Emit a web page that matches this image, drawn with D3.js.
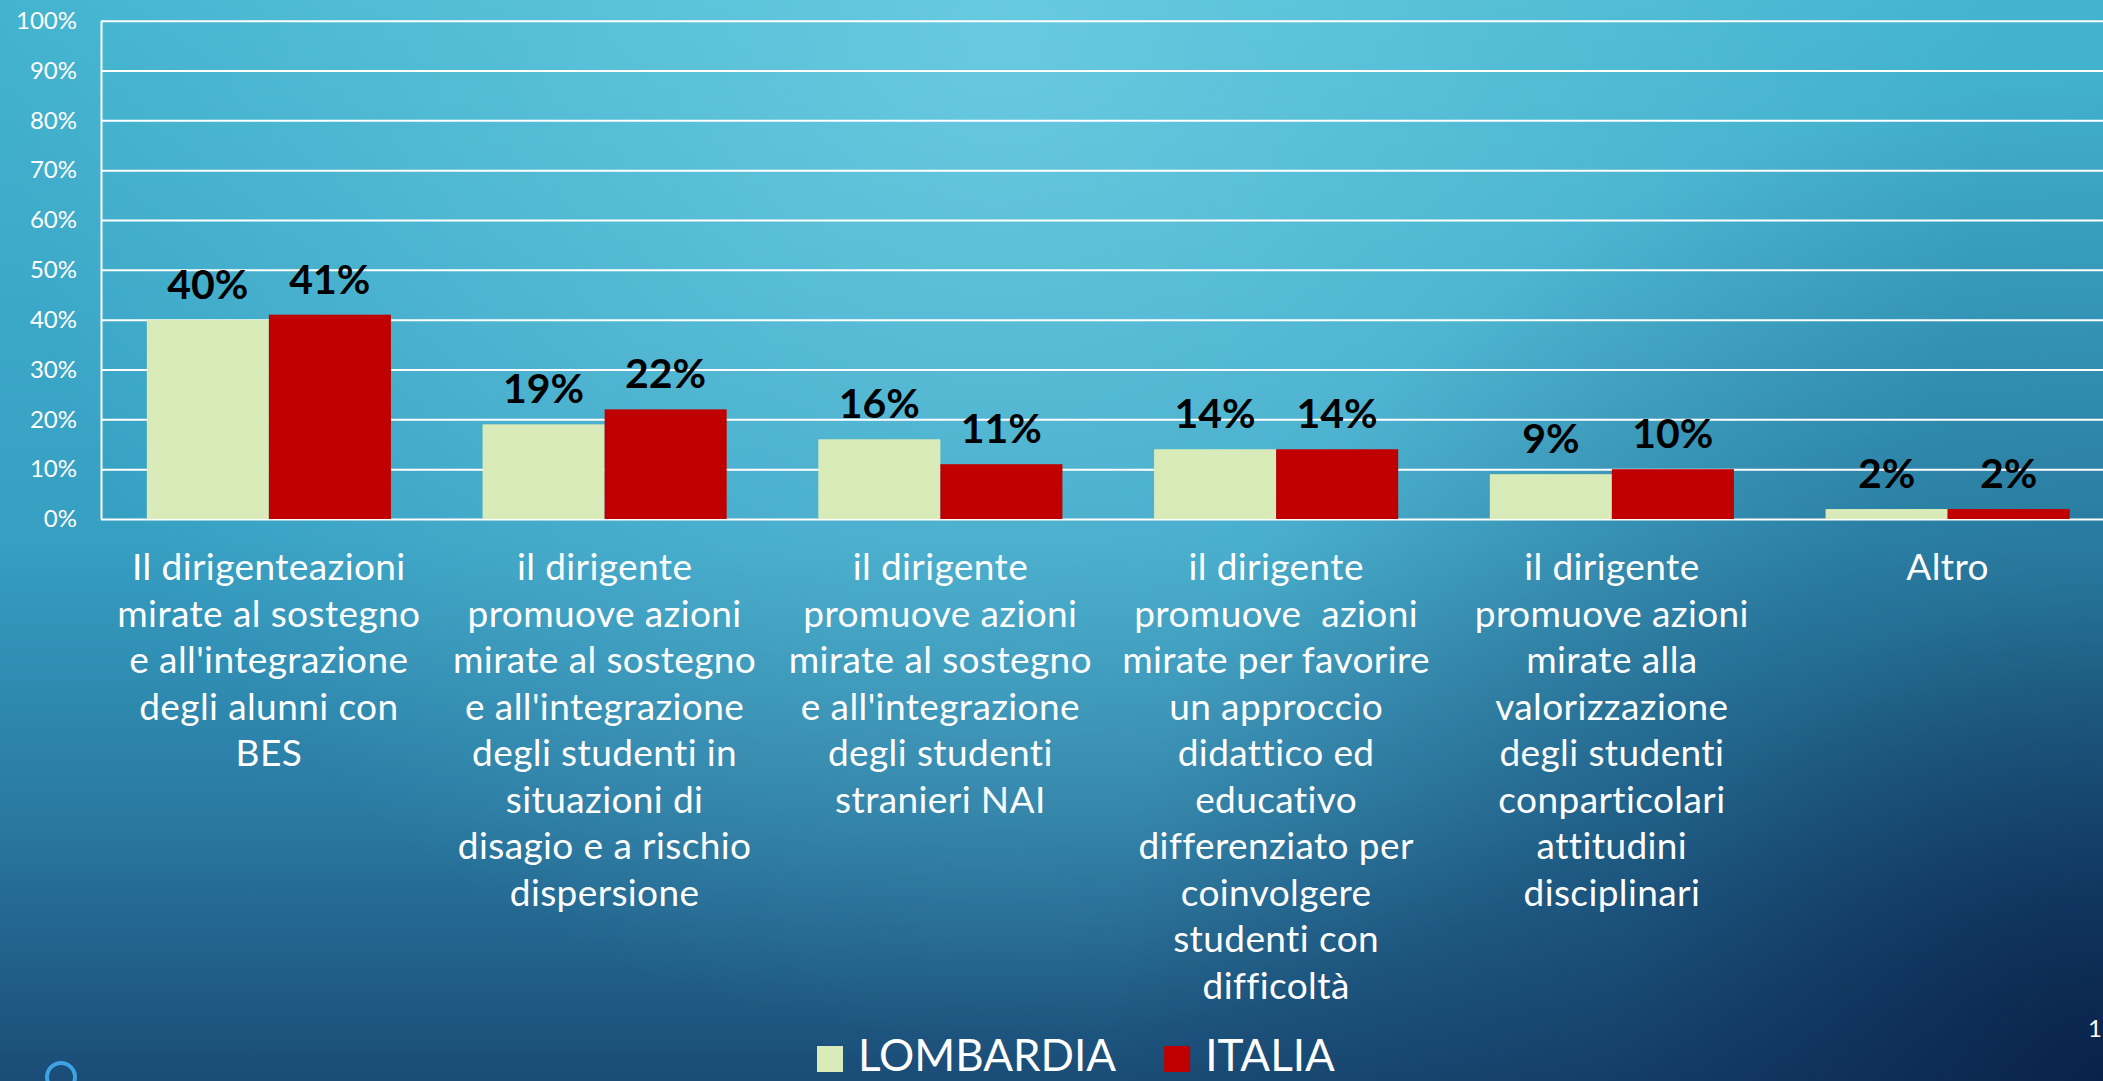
<!DOCTYPE html>
<html>
<head>
<meta charset="utf-8">
<script src="https://cdn.jsdelivr.net/npm/d3@7"></script>
<style>
  html, body { margin: 0; padding: 0; overflow: hidden; background: #0c2a55; }
  svg { display: block; }
  text { font-family: Lato, "Open Sans", sans-serif; }
</style>
</head>
<body>
<svg id="chart" width="2103" height="1081"></svg>
<script>
// categories (line breaks as on the slide)
const categories = [
  "Il dirigenteazioni\nmirate al sostegno\ne all'integrazione\ndegli alunni con\nBES",
  "il dirigente\npromuove azioni\nmirate al sostegno\ne all'integrazione\ndegli studenti in\nsituazioni di\ndisagio e a rischio\ndispersione",
  "il dirigente\npromuove azioni\nmirate al sostegno\ne all'integrazione\ndegli studenti\nstranieri NAI",
  "il dirigente\npromuove  azioni\nmirate per favorire\nun approccio\ndidattico ed\neducativo\ndifferenziato per\ncoinvolgere\nstudenti con\ndifficoltà",
  "il dirigente\npromuove azioni\nmirate alla\nvalorizzazione\ndegli studenti\nconparticolari\nattitudini\ndisciplinari",
  "Altro"
];
const lombardia = [0.40, 0.19, 0.16, 0.14, 0.09, 0.02];
const italia    = [0.41, 0.22, 0.11, 0.14, 0.10, 0.02];
const seriesNames = ["LOMBARDIA", "ITALIA"];
const seriesColors = ["#d8ebb9", "#c00000"];
const yTicks = [0, 0.1, 0.2, 0.3, 0.4, 0.5, 0.6, 0.7, 0.8, 0.9, 1];

const W = 2103, H = 1081;
const svg = d3.select("#chart");

// background: vertical base, light spot top centre, dark corner bottom right
const defs = svg.append("defs");
const base = defs.append("linearGradient")
  .attr("id", "bgBase").attr("x1", 0).attr("y1", 0).attr("x2", 0).attr("y2", 1);
[[0, "#43b4cf"], [0.5, "#369fc2"], [0.75, "#2a7aa2"], [1, "#1a4c76"]].forEach(s =>
  base.append("stop").attr("offset", s[0]).attr("stop-color", s[1]));
const glow = defs.append("radialGradient")
  .attr("id", "bgGlow").attr("gradientUnits", "userSpaceOnUse")
  .attr("cx", 1000).attr("cy", 40).attr("r", 1000);
glow.append("stop").attr("offset", 0).attr("stop-color", "#80d9ea").attr("stop-opacity", 0.6);
glow.append("stop").attr("offset", 1).attr("stop-color", "#80d9ea").attr("stop-opacity", 0);
const shade = defs.append("radialGradient")
  .attr("id", "bgShade").attr("gradientUnits", "userSpaceOnUse")
  .attr("cx", W).attr("cy", H).attr("r", 1000);
[[0, 0.9], [0.5, 0.3], [1, 0]].forEach(s =>
  shade.append("stop").attr("offset", s[0]).attr("stop-color", "#071d45").attr("stop-opacity", s[1]));
["bgBase", "bgGlow", "bgShade"].forEach(id =>
  svg.append("rect").attr("width", W).attr("height", H).attr("fill", `url(#${id})`));

const x0 = d3.scaleBand()
  .domain(d3.range(categories.length))
  .range([101, 2115.5])
  .paddingInner(0.273)
  .paddingOuter(0.1365);
const x1 = d3.scaleBand()
  .domain([0, 1])
  .range([0, x0.bandwidth()]);
const y = d3.scaleLinear().domain([0, 1]).range([519, 20.7]);

// axis + gridlines
const yAxis = svg.append("g")
  .attr("transform", `translate(${x0.range()[0]},0)`)
  .call(d3.axisLeft(y)
    .tickValues(yTicks)
    .tickFormat(d3.format(".0%"))
    .tickSizeInner(-(W + 20 - x0.range()[0]))
    .tickSizeOuter(0)
    .tickPadding(24));
yAxis.select(".domain").attr("stroke", "#fff").attr("stroke-width", 2);
yAxis.selectAll(".tick line").attr("stroke", "#fff").attr("stroke-width", 2);
yAxis.selectAll(".tick text")
  .attr("fill", "#fff")
  .style("font-size", "24px");

// bars
const rows = categories.map((c, i) => ({ i, vals: [lombardia[i], italia[i]] }));
const groups = svg.append("g").selectAll("g")
  .data(rows)
  .join("g")
  .attr("transform", d => `translate(${x0(d.i)},0)`);

groups.selectAll("rect")
  .data(d => d.vals.map((v, s) => ({ v, s })))
  .join("rect")
  .attr("x", d => x1(d.s))
  .attr("width", x1.bandwidth())
  .attr("y", d => y(d.v))
  .attr("height", d => y(0) - y(d.v))
  .attr("fill", d => seriesColors[d.s]);

groups.selectAll("text.val")
  .data(d => d.vals.map((v, s) => ({ v, s })))
  .join("text")
  .attr("class", "val")
  .attr("x", d => x1(d.s) + x1.bandwidth() / 2)
  .attr("y", d => y(d.v) - 21)
  .attr("text-anchor", "middle")
  .style("font-size", "41px")
  .style("font-weight", "bold")
  .attr("fill", "#000")
  .text(d => d3.format(".0%")(d.v));

// category labels
const lineH = 46.5;
const catLabels = svg.append("g").selectAll("text")
  .data(categories)
  .join("text")
  .attr("x", (d, i) => x0(i) + x0.bandwidth() / 2)
  .attr("y", 580)
  .attr("text-anchor", "middle")
  .attr("fill", "#fff")
  .style("font-size", "37px")
  .style("letter-spacing", "0.4px")
  .style("white-space", "pre");
catLabels.selectAll("tspan")
  .data(d => d.split("\n"))
  .join("tspan")
  .attr("x", function () { return this.parentNode.getAttribute("x"); })
  .attr("dy", (d, i) => i === 0 ? 0 : lineH)
  .text(d => d);

// legend
const legend = svg.append("g");
let lx = 817;
seriesNames.forEach((name, s) => {
  legend.append("rect")
    .attr("x", lx).attr("y", 1046)
    .attr("width", 26).attr("height", 26)
    .attr("fill", seriesColors[s]);
  const t = legend.append("text")
    .attr("x", lx + 41).attr("y", 1071)
    .attr("fill", "#fff")
    .style("font-size", "44px")
    .text(name);
  lx = lx + 41 + t.node().getComputedTextLength() + 48;
});

// slide decorations
svg.append("circle")
  .attr("cx", 61).attr("cy", 1077).attr("r", 14)
  .attr("fill", "none").attr("stroke", "#3fa2e3").attr("stroke-width", 4);
svg.append("text")
  .attr("x", 2088).attr("y", 1037)
  .attr("fill", "#fff")
  .style("font-size", "24px")
  .text("1");
</script>
</body>
</html>
